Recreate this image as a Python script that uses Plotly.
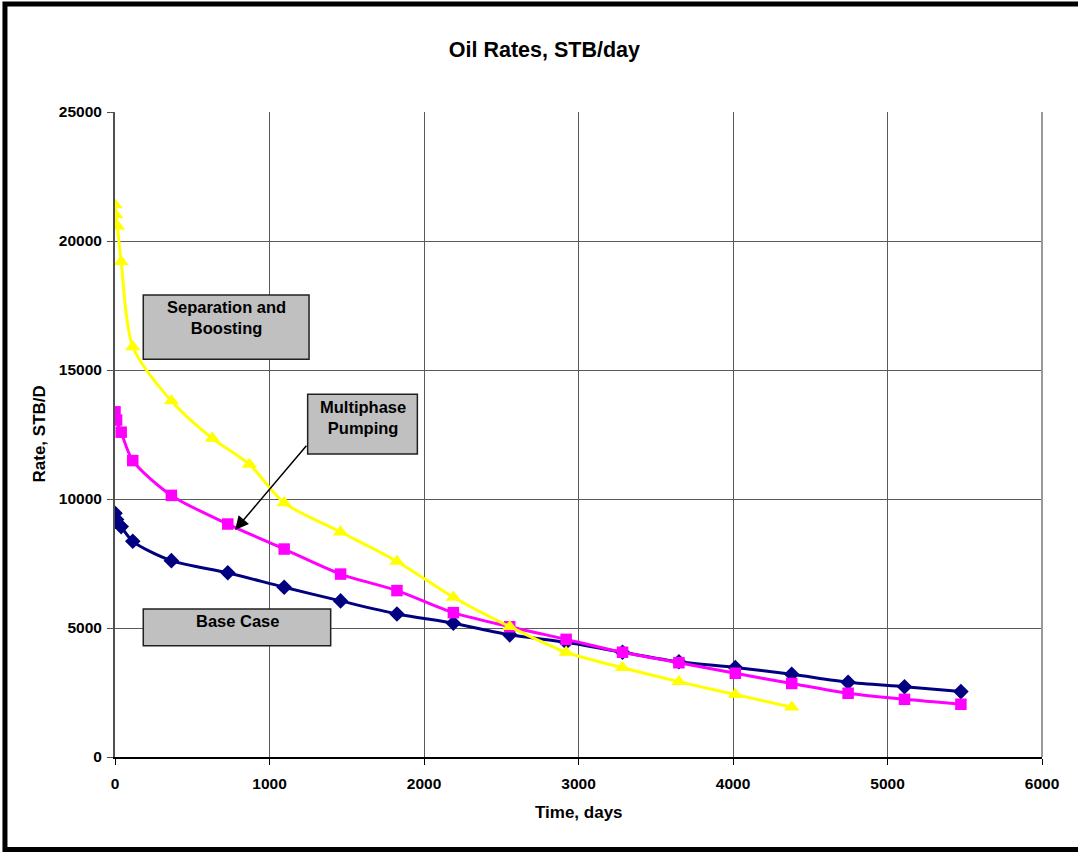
import plotly.graph_objects as go

# Production time (days) and oil rate (STB/day) for each development option
base_days = [0, 10, 40, 115, 365, 730, 1095, 1460, 1825, 2190, 2555, 2920, 3285, 3650, 4015, 4380, 4745, 5110, 5475]
base_rate = [9450, 9210, 8930, 8360, 7610, 7140, 6580, 6050, 5545, 5185, 4735, 4445, 4060, 3690, 3470, 3205, 2900, 2725, 2535]

pump_days = [0, 10, 40, 115, 365, 730, 1095, 1460, 1825, 2190, 2555, 2920, 3285, 3650, 4015, 4380, 4745, 5110, 5475]
pump_rate = [13380, 13060, 12590, 11490, 10140, 9030, 8060, 7090, 6450, 5595, 5050, 4560, 4060, 3655, 3245, 2850, 2470, 2235, 2045]

sep_days = [0, 5, 15, 40, 115, 365, 630, 870, 1095, 1460, 1825, 2190, 2555, 2920, 3285, 3650, 4015, 4380]
sep_rate = [21400, 21010, 20580, 19200, 15900, 13800, 12350, 11340, 9850, 8720, 7580, 6190, 5050, 4060, 3460, 2920, 2420, 1930]

x_ticks = [0, 1000, 2000, 3000, 4000, 5000, 6000]
y_ticks = [0, 5000, 10000, 15000, 20000, 25000]

FONT = "Liberation Sans, Arial, sans-serif"

fig = go.Figure()

fig.add_trace(go.Scatter(
    x=base_days, y=base_rate, name="Base Case", mode="lines+markers",
    line=dict(color="#000080", width=3, shape="spline", smoothing=0.8),
    marker=dict(symbol="diamond", size=12, color="#000080"),
))
fig.add_trace(go.Scatter(
    x=pump_days, y=pump_rate, name="Multiphase Pumping", mode="lines+markers",
    line=dict(color="#FF00FF", width=3, shape="spline", smoothing=0.8),
    marker=dict(symbol="square", size=11.5, color="#FF00FF"),
))
fig.add_trace(go.Scatter(
    x=sep_days, y=sep_rate, name="Separation and Boosting", mode="lines+markers",
    line=dict(color="#FFFF00", width=3, shape="spline", smoothing=0.8),
    marker=dict(symbol="triangle-up", size=13.5, color="#FFFF00"),
))

# Label boxes (grey callouts)
boxes = [
    dict(x0=183, x1=1256, y0=15415, y1=17907),
    dict(x0=1247, x1=1957, y0=11744, y1=14058),
    dict(x0=183, x1=1396, y0=4314, y1=5736),
]
shapes = []
for b in boxes:
    shapes.append(dict(type="rect", xref="x", yref="y", layer="above",
                       fillcolor="#C0C0C0", line=dict(color="#202020", width=1.5), **b))

# Right edge of the plot area
shapes.append(dict(type="line", xref="x domain", yref="y domain", x0=1, x1=1, y0=0, y1=1,
                   line=dict(color="#999999", width=2)))
# Outer frame around the chart
shapes.append(dict(type="rect", xref="paper", yref="paper",
                   x0=-0.1187, x1=1.05, y0=-0.1434, y1=1.1674,
                   line=dict(color="black", width=5), fillcolor="rgba(0,0,0,0)"))

label_font = dict(family=FONT, size=16.5, color="black", weight="bold")
annotations = [
    dict(x=720, y=17050, xref="x", yref="y", text="Separation and<br>Boosting",
         showarrow=False, font=label_font, align="center"),
    dict(x=1602, y=13150, xref="x", yref="y", text="Multiphase<br>Pumping",
         showarrow=False, font=label_font, align="center"),
    dict(x=790, y=5271, xref="x", yref="y", text="Base Case",
         showarrow=False, font=label_font, align="center"),
    # Arrow pointing from the pumping label to its curve
    dict(x=777, y=8799, ax=1247, ay=12120, xref="x", yref="y", axref="x", ayref="y",
         text="", showarrow=True, arrowhead=2, arrowsize=1.8, arrowwidth=1.5, arrowcolor="black"),
    # Axis titles
    dict(x=0.5, y=0, xref="paper", yref="paper", yanchor="middle", yshift=-55,
         text="Time, days", showarrow=False,
         font=dict(family=FONT, size=17, color="black", weight="bold")),
    dict(x=0, y=0.5, xref="paper", yref="paper", xanchor="center", xshift=-76,
         text="Rate, STB/D", textangle=-90, showarrow=False,
         font=dict(family=FONT, size=17, color="black", weight="bold")),
]

tick_font = dict(family=FONT, size=15.5, color="black", weight="bold")

fig.update_layout(
    width=1078, height=855,
    margin=dict(l=115, r=36, t=112, b=98),
    paper_bgcolor="white", plot_bgcolor="white",
    showlegend=False,
    title=dict(text="Oil Rates, STB/day", x=0.505, xref="container", xanchor="center",
               y=1 - 49 / 855, yref="container", yanchor="middle",
               font=dict(family=FONT, size=21.5, color="black", weight="bold")),
    xaxis=dict(range=[0, 6000], tickvals=x_ticks, ticktext=[str(v) for v in x_ticks],
               showgrid=True, gridcolor="#5a5a5a", gridwidth=1, zeroline=False,
               showline=True, linecolor="black", linewidth=1.5,
               ticks="outside", ticklen=6, tickcolor="black", tickwidth=1,
               ticklabelstandoff=6, tickfont=tick_font),
    yaxis=dict(range=[0, 25000], tickvals=y_ticks, ticktext=[str(v) for v in y_ticks],
               showgrid=True, gridcolor="#5a5a5a", gridwidth=1, zeroline=False,
               showline=True, linecolor="#505050", linewidth=2,
               ticks="outside", ticklen=6, tickcolor="#505050", tickwidth=1,
               ticklabelstandoff=2, tickfont=tick_font),
    shapes=shapes,
    annotations=annotations,
)

fig.write_html("out.html")
